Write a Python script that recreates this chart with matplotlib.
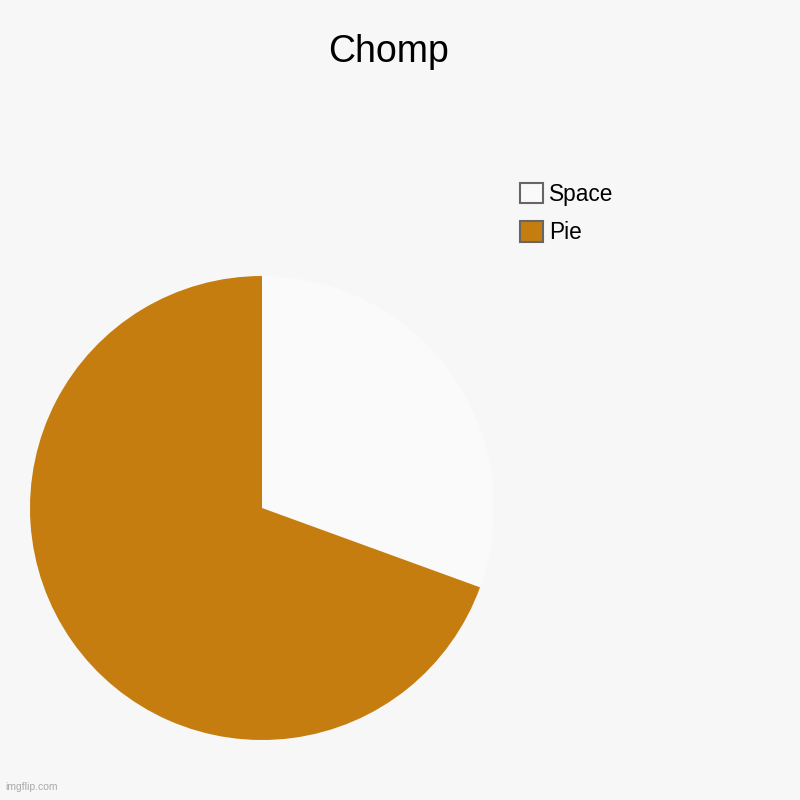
import matplotlib.pyplot as plt
from matplotlib.patches import Patch

labels = ["Space", "Pie"]
values = [11, 25]
colors = ["#fafafa", "#c67d0f"]

plt.rcParams['font.family'] = ['Liberation Sans', 'DejaVu Sans']

fig = plt.figure(figsize=(8, 8), dpi=100, facecolor="#f7f7f7")
ax = fig.add_axes([0.0375, 0.075, 0.58, 0.58])
ax.pie(values, colors=colors, startangle=90, counterclock=False,
       wedgeprops=dict(linewidth=0))
ax.set_xlim(-1, 1)
ax.set_ylim(-1, 1)
ax.set_aspect("equal")
ax.axis("off")

fig.text(0.486, 0.935, "Chomp", ha="center", va="center", fontsize=27)

handles = [Patch(facecolor=c, edgecolor="#666666", linewidth=1.5) for c in colors]
fig.legend(handles, labels, loc="upper left", bbox_to_anchor=(0.625, 0.797),
           frameon=False, fontsize=16.3, handlelength=1.0, handleheight=1.0,
           handletextpad=0.28, labelspacing=0.68)

fig.text(0.006, 0.012, "imgflip.com", fontsize=7.5, color="#aaaaaa")

fig.savefig("out.png", dpi=100, facecolor=fig.get_facecolor())
